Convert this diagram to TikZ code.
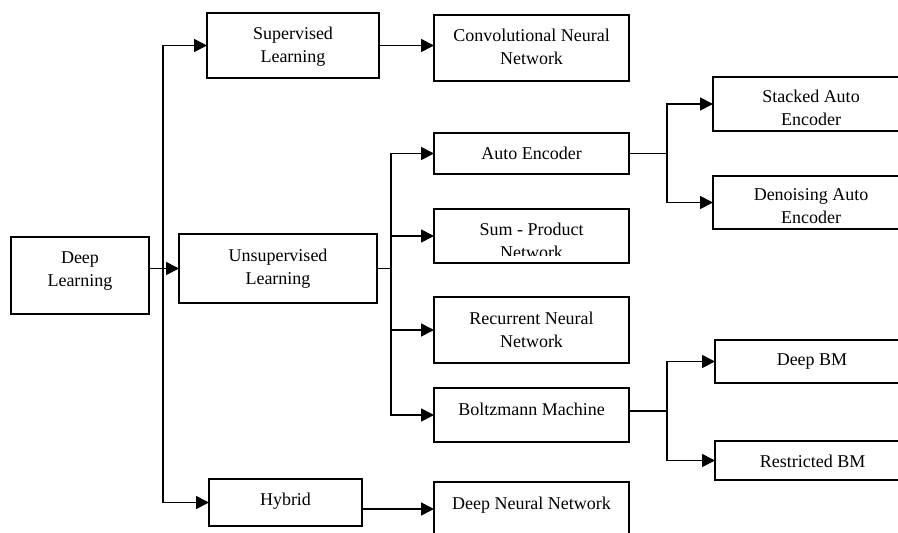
\documentclass[tikz,border=0pt]{standalone}
\usepackage{fontspec}
\setmainfont{Liberation Serif}
\usetikzlibrary{arrows.meta}

% a box given by its left, top, right and bottom edges
\newcommand\taxbox[5]{%
  \node[box, minimum width={#4-#2}, minimum height={#5-#3}]
    (#1) at ({(#2+#4)/2},{(#3+#5)/2}) {};}

\begin{document}
\begin{tikzpicture}[x=1pt,y=-1pt,
  box/.style={draw, line width=1.7pt, rectangle, inner sep=0pt, outer sep=0pt},
  txt/.style={align=center, inner sep=0pt, font=\fontsize{18}{23}\selectfont},
  wire/.style={line width=1.7pt},
  arr/.style={wire, -{Triangle[length=13pt,width=13pt]}}]

\useasboundingbox (0,0) rectangle (898,533);
\clip (0,0) rectangle (898,533);
\fill[white] (0,0) rectangle (898,533);

% boxes
\taxbox{dl}{11}{237}{149}{314}
\taxbox{sup}{207}{13}{379}{78}
\taxbox{un}{179}{234}{377}{303}
\taxbox{hy}{209}{479}{362}{526}
\taxbox{cnn}{434}{15}{629}{81}
\taxbox{ae}{434}{133}{629}{174}
\taxbox{sp}{434}{209}{629}{263}
\taxbox{rnn}{434}{297}{629}{363}
\taxbox{bm}{434}{388}{629}{442}
\taxbox{dnn}{434}{482}{629}{540}
\taxbox{sae}{713}{77}{908}{131}
\taxbox{dae}{713}{176}{908}{229}
\taxbox{dbm}{715}{340}{910}{383}
\taxbox{rbm}{715}{441}{910}{480}

% labels
\node[txt] (dl-t)  at (80,271)     {Deep\\Learning};
\node[txt] (sup-t) at (293,47)     {Supervised\\Learning};
\node[txt] (un-t)  at (278,268.5)  {Unsupervised\\Learning};
\node[txt] (hy-t)  at (285.5,500.8){Hybrid};
\node[txt] (cnn-t) at (531.5,47)   {Convolutional Neural\\Network};
\node[txt] (ae-t)  at (531.5,153)  {Auto Encoder};
\begin{scope}
  \clip (434,209) rectangle (629,255.5);
  \node[txt] (sp-t) at (531.5,241) {Sum - Product\\Network};
\end{scope}
\node[txt] (rnn-t) at (531.5,330)  {Recurrent Neural\\Network};
\node[txt] (bm-t)  at (531.5,409)  {Boltzmann Machine};
\node[txt] (dnn-t) at (531.5,504.8){Deep Neural Network};
\node[txt] (sae-t) at (811,108)    {Stacked Auto\\Encoder};
\node[txt] (dae-t) at (811,206)    {Denoising Auto\\Encoder};
\node[txt] (dbm-t) at (812,361.8)  {Deep BM};
\node[txt] (rbm-t) at (812.5,461)  {Restricted BM};

% junction columns
\coordinate (j1) at (163,0);
\coordinate (j2) at (391,0);
\coordinate (j3) at (667,0);

% Deep Learning fan-out
\draw[arr] (dl.east |- un.west) -- (un.west);
\draw[arr] (j1 |- un.west) |- (sup.west);
\draw[arr] (j1 |- un.west) |- (hy.west);

\draw[arr] (sup.east) -- (sup.east -| cnn.west);
\draw[arr] ([yshift=-6.5pt]hy.east) -- ([yshift=-6.5pt]hy.east -| dnn.west);

% Unsupervised fan-out
\draw[wire] (un.east) -- (j2 |- un.east);
\draw[arr] (j2 |- un.east) |- (ae.west);
\draw[arr] (j2 |- un.east) |- (bm.west);
\draw[arr] (j2 |- sp.west) -- (sp.west);
\draw[arr] (j2 |- rnn.west) -- (rnn.west);

% Auto Encoder fan-out
\draw[wire] (ae.east) -- (j3 |- ae.east);
\draw[arr] (j3 |- ae.east) |- (sae.west);
\draw[arr] (j3 |- ae.east) |- (dae.west);

% Boltzmann Machine fan-out
\draw[wire] ([yshift=4pt]bm.east) -- ([yshift=4pt]bm.east -| j3);
\draw[arr] ([yshift=4pt]bm.east -| j3) |- (dbm.west);
\draw[arr] ([yshift=4pt]bm.east -| j3) |- (rbm.west);
\end{tikzpicture}
\end{document}
